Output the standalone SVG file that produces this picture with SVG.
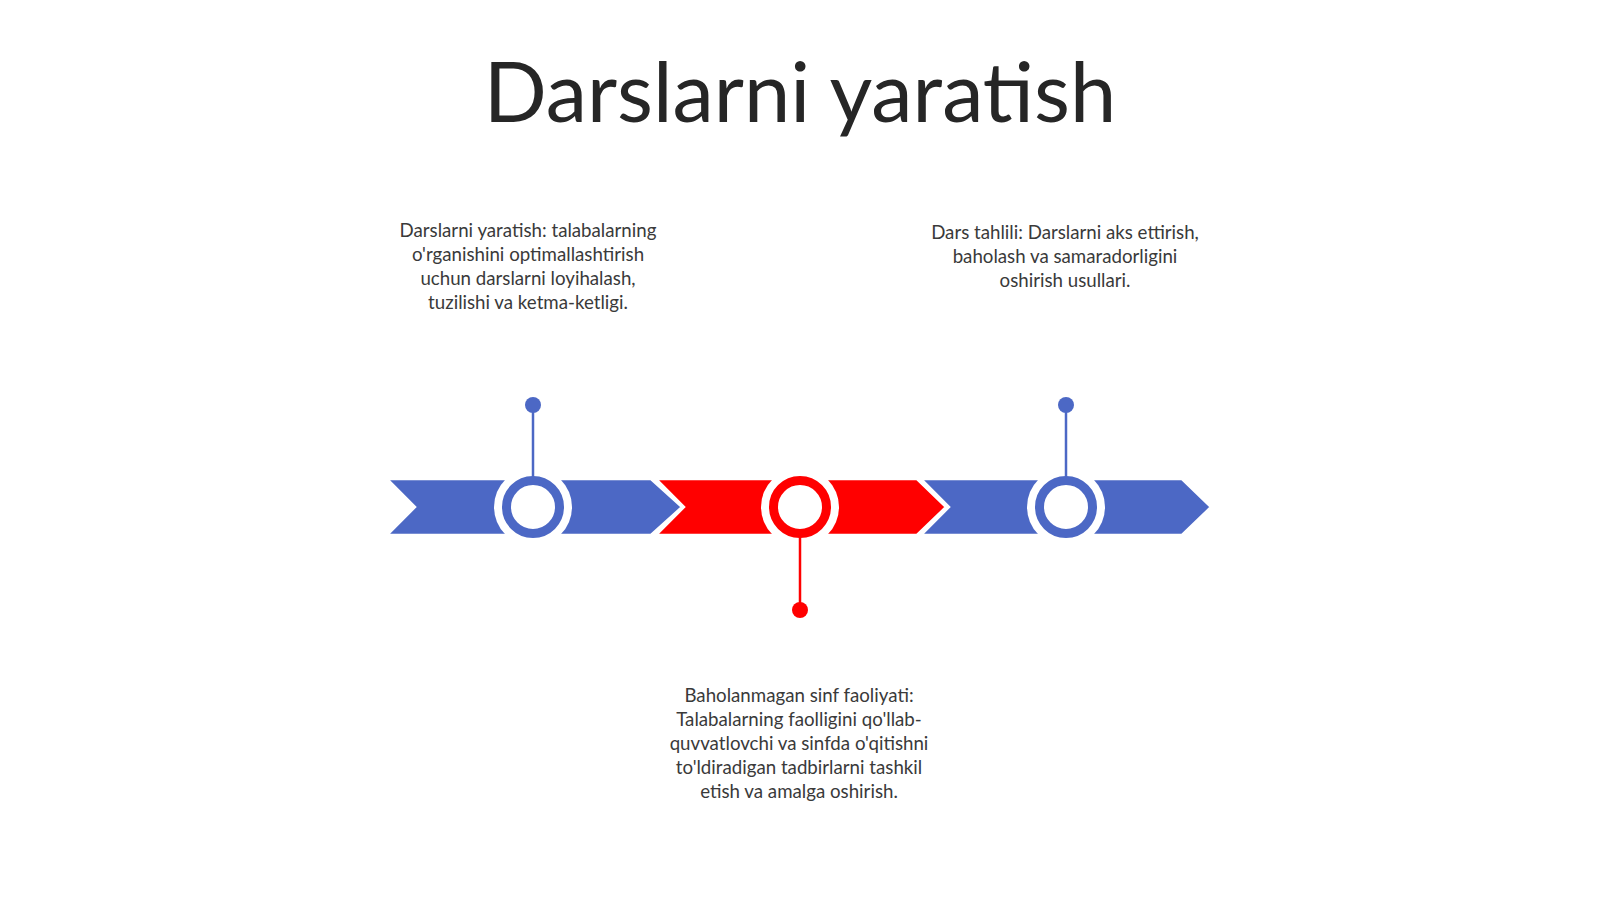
<svg xmlns="http://www.w3.org/2000/svg" width="1600" height="899" viewBox="0 0 1600 899">
<style>
.title{font-family:Lato,"Liberation Sans",sans-serif;font-size:83px;fill:#262626;text-anchor:middle}
.body{font-family:Lato,"Liberation Sans",sans-serif;font-size:18.7px;fill:#3a3a3a;text-anchor:middle}
.blue{fill:#4C68C5}
.red{fill:#FF0000}
.chev{stroke:#ffffff;stroke-width:2.5;stroke-linejoin:miter}
.halo{fill:#ffffff}
.ringb{fill:#ffffff;stroke:#4C68C5;stroke-width:9}
.ringr{fill:#ffffff;stroke:#FF0000;stroke-width:9}
</style>
<rect width="1600" height="899" fill="#ffffff"/>
<text class="title" x="800" y="122">Darslarni yaratish</text>

<g id="chevrons">
<polygon id="chev1" class="chev blue" points="387,479 651,479 682,507 651,535 387,535 415,507"/>
<polygon id="chev2" class="chev red" points="656,479 917,479 946,507 917,535 656,535 684,507"/>
<polygon id="chev3" class="chev blue" points="921,479 1182,479 1211,507 1182,535 921,535 949,507"/>
</g>

<g id="node1">
<circle cx="533" cy="507" r="39" class="halo"/>
<circle cx="533" cy="507" r="26.5" class="ringb"/>
<text class="body" x="528" y="237">Darslarni yaratish: talabalarning</text>
<text class="body" x="528" y="261">o'rganishini optimallashtirish</text>
<text class="body" x="528" y="285">uchun darslarni loyihalash,</text>
<text class="body" x="528" y="309">tuzilishi va ketma-ketligi.</text>
</g>

<g id="node2">
<circle cx="800" cy="507" r="39" class="halo"/>
<circle cx="800" cy="507" r="26.5" class="ringr"/>
<text class="body" x="799" y="702">Baholanmagan sinf faoliyati:</text>
<text class="body" x="799" y="726">Talabalarning faolligini qo'llab-</text>
<text class="body" x="799" y="750">quvvatlovchi va sinfda o'qitishni</text>
<text class="body" x="799" y="774">to'ldiradigan tadbirlarni tashkil</text>
<text class="body" x="799" y="798">etish va amalga oshirish.</text>
</g>

<g id="node3">
<circle cx="1066" cy="507" r="39" class="halo"/>
<circle cx="1066" cy="507" r="26.5" class="ringb"/>
<text class="body" x="1065" y="239">Dars tahlili: Darslarni aks ettirish,</text>
<text class="body" x="1065" y="263">baholash va samaradorligini</text>
<text class="body" x="1065" y="287">oshirish usullari.</text>
</g>

<g id="connectors">
<line x1="533" y1="405" x2="533" y2="477" stroke="#4C68C5" stroke-width="2.5"/>
<circle cx="533" cy="405" r="8" class="blue"/>
<line x1="800" y1="537" x2="800" y2="610" stroke="#FF0000" stroke-width="2.5"/>
<circle cx="800" cy="610" r="8" class="red"/>
<line x1="1066" y1="405" x2="1066" y2="477" stroke="#4C68C5" stroke-width="2.5"/>
<circle cx="1066" cy="405" r="8" class="blue"/>
</g>
</svg>
